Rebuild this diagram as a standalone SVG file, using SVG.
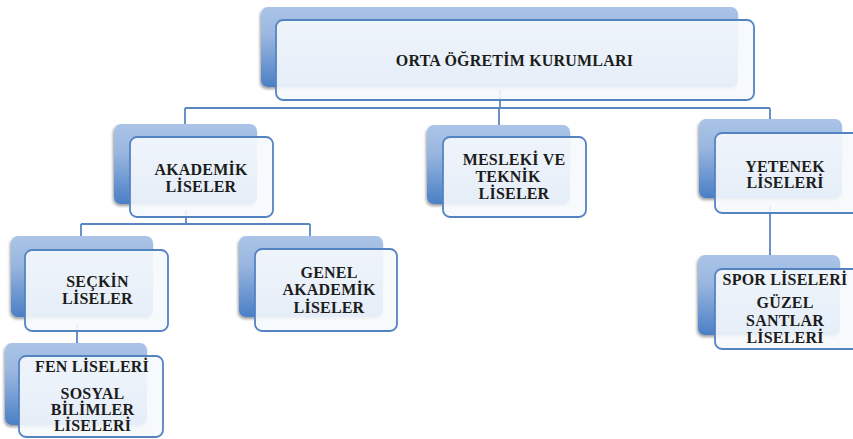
<svg xmlns="http://www.w3.org/2000/svg" width="853" height="439" viewBox="0 0 853 439">
  <style>
    .back { fill: url(#backFill); filter: url(#shadow); }
    .front { fill: #f6f9fd; fill-opacity: 0.9; stroke: #5583c2; stroke-width: 1.8; }
    .link { fill: none; stroke: #5a87c4; stroke-width: 1.8; }
    text { font-family: "Liberation Serif", "Times New Roman", serif; font-size: 16px; font-weight: bold; letter-spacing: 0.2px; fill: #1c1c1c; text-anchor: middle; }
  </style>
  <defs>
    <linearGradient id="backFill" x1="0" y1="0" x2="0" y2="1">
      <stop offset="0" stop-color="#abc4e7"/>
      <stop offset="0.35" stop-color="#9ab7e0"/>
      <stop offset="1" stop-color="#4a7fc6"/>
    </linearGradient>
    <filter id="shadow" x="-10%" y="-10%" width="120%" height="130%">
      <feGaussianBlur in="SourceAlpha" stdDeviation="1.6"/>
      <feOffset dx="-1" dy="2" result="b"/>
      <feComponentTransfer><feFuncA type="linear" slope="0.4"/></feComponentTransfer>
      <feMerge><feMergeNode/><feMergeNode in="SourceGraphic"/></feMerge>
    </filter>
  </defs>

  <!-- connectors -->
  <g id="connectors">
    <path class="link" d="M500 90 V108 M185 108 H770 M185 108 V125 M499 108 V126 M770 108 V120"/>
    <path class="link" d="M186 210 V224 M81 224 H310 M81 224 V237 M310 224 V237"/>
    <path class="link" d="M77 325 V344"/>
    <path class="link" d="M770 205 V256"/>
  </g>

  <!-- root node -->
  <g id="orta-ogretim">
    <rect class="back" x="261" y="7" width="477" height="80" rx="7"/>
    <rect class="front" x="276" y="20" width="478" height="80" rx="7"/>
    <text x="514.5" y="66">ORTA ÖĞRETİM KURUMLARI</text>
  </g>

  <g id="akademik">
    <rect class="back" x="114" y="124" width="143" height="80" rx="7"/>
    <rect class="front" x="130" y="137" width="143" height="80" rx="7"/>
    <text x="201" y="175">AKADEMİK</text>
    <text x="201" y="192">LİSELER</text>
  </g>

  <g id="mesleki">
    <rect class="back" x="427" y="125" width="143" height="79" rx="7"/>
    <rect class="front" x="443" y="137" width="143" height="80" rx="7"/>
    <text x="514" y="165">MESLEKİ VE</text>
    <text x="508" y="182">TEKNİK</text>
    <text x="514" y="199">LİSELER</text>
  </g>

  <g id="yetenek">
    <rect class="back" x="699" y="119" width="143" height="79" rx="7"/>
    <rect class="front" x="715" y="133" width="145" height="80" rx="7"/>
    <text x="785" y="172">YETENEK</text>
    <text x="785" y="188">LİSELERİ</text>
  </g>

  <g id="seckin">
    <rect class="back" x="11" y="236" width="142" height="81" rx="7"/>
    <rect class="front" x="25" y="250" width="143" height="81" rx="7"/>
    <text x="97.5" y="287">SEÇKİN</text>
    <text x="97.5" y="304">LİSELER</text>
  </g>

  <g id="genel-akademik">
    <rect class="back" x="239" y="236" width="144" height="81" rx="7"/>
    <rect class="front" x="255" y="249" width="142" height="82" rx="7"/>
    <text x="329" y="278">GENEL</text>
    <text x="329" y="295">AKADEMİK</text>
    <text x="329" y="313">LİSELER</text>
  </g>

  <g id="fen-sosyal">
    <rect class="back" x="5" y="343" width="142" height="82" rx="7"/>
    <rect class="front" x="19" y="356" width="144" height="81" rx="7"/>
    <text x="92" y="372">FEN LİSELERİ</text>
    <text x="92.5" y="399">SOSYAL</text>
    <text x="92.5" y="415">BİLİMLER</text>
    <text x="92.5" y="431">LİSELERİ</text>
  </g>

  <g id="spor-guzel">
    <rect class="back" x="698" y="255" width="142" height="80" rx="7"/>
    <rect class="front" x="715" y="269" width="145" height="80" rx="7"/>
    <text x="785" y="285">SPOR LİSELERİ</text>
    <text x="785" y="308">GÜZEL</text>
    <text x="785" y="326">SANTLAR</text>
    <text x="785" y="343">LİSELERİ</text>
  </g>
</svg>
